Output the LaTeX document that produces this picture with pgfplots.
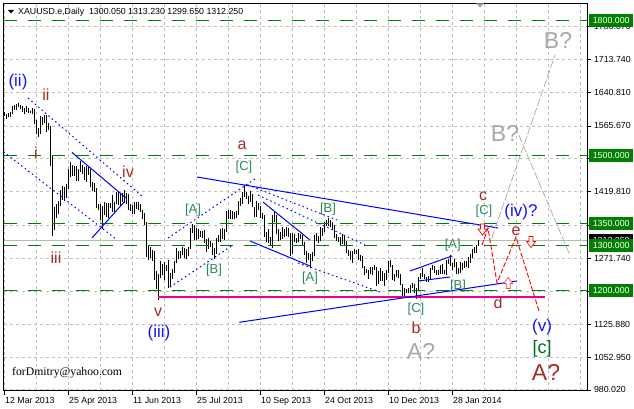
\documentclass[border=0pt]{standalone}
\usepackage{pgfplots}
\pgfplotsset{compat=1.18}
\usepackage{pgfplotstable}
\usepackage{fontspec}
\setmainfont{Liberation Sans}
\newfontfamily\wmfont{Liberation Serif}
\definecolor{mtgreen}{RGB}{0,128,0}
\definecolor{wbrown}{RGB}{165,42,42}
\definecolor{wblue}{RGB}{20,20,255}
\definecolor{wbr}{RGB}{40,140,90}
\definecolor{wgray}{RGB}{168,168,168}
\definecolor{gridc}{RGB}{192,192,192}
\definecolor{wdark}{RGB}{0,110,30}
\definecolor{pinkred}{RGB}{255,60,100}
\newcommand{\fs}[1]{\fontsize{#1bp}{#1bp}\selectfont}

\pgfplotstableread{
i l h
0 1587 1596
1 1582 1593
2 1585 1595
3 1586 1597
4 1592 1609
5 1600 1612
6 1602 1614
7 1607 1616
8 1603 1612
9 1596 1609
10 1592 1606
11 1596 1609
12 1594 1606
13 1594 1598
14 1592 1605
15 1570 1604
16 1548 1578
17 1540 1562
18 1548 1587
19 1567 1585
20 1572 1589
21 1553 1590
22 1557 1572
23 1477 1566
24 1321 1501
25 1334 1385
26 1362 1392
27 1370 1398
28 1387 1424
29 1402 1433
30 1400 1431
31 1405 1437
32 1425 1469
33 1452 1485
34 1454 1478
35 1455 1477
36 1443 1477
37 1444 1471
38 1464 1487
39 1460 1478
40 1446 1475
41 1442 1477
42 1457 1475
43 1429 1469
44 1421 1442
45 1420 1438
46 1384 1428
47 1380 1393
48 1357 1392
49 1338 1387
50 1369 1396
51 1363 1395
52 1362 1395
53 1383 1394
54 1375 1412
55 1375 1397
56 1392 1418
57 1390 1418
58 1387 1416
59 1397 1417
60 1395 1424
61 1392 1417
62 1378 1415
63 1377 1392
64 1371 1391
65 1371 1396
66 1381 1396
67 1378 1396
68 1374 1392
69 1358 1378
70 1346 1373
71 1275 1353
72 1269 1302
73 1272 1297
74 1267 1291
75 1224 1289
76 1203 1243
77 1180 1236
78 1229 1267
79 1234 1260
80 1223 1263
81 1243 1257
82 1207 1268
83 1211 1239
84 1226 1248
85 1240 1265
86 1262 1294
87 1271 1288
88 1272 1288
89 1280 1297
90 1273 1294
91 1271 1292
92 1276 1298
93 1293 1340
94 1328 1348
95 1313 1346
96 1312 1339
97 1314 1338
98 1320 1332
99 1318 1332
100 1306 1335
101 1286 1315
102 1292 1317
103 1298 1311
104 1280 1306
105 1271 1294
106 1282 1316
107 1309 1323
108 1309 1336
109 1315 1339
110 1313 1338
111 1330 1376
112 1360 1378
113 1360 1378
114 1358 1376
115 1360 1375
116 1361 1377
117 1368 1399
118 1387 1406
119 1392 1420
120 1408 1434
121 1403 1418
122 1392 1410
123 1397 1421
124 1385 1415
125 1363 1386
126 1364 1399
127 1380 1394
128 1362 1388
129 1360 1372
130 1320 1368
131 1308 1330
132 1306 1336
133 1300 1319
134 1294 1368
135 1353 1375
136 1325 1368
137 1310 1338
138 1312 1330
139 1315 1342
140 1319 1338
141 1321 1342
142 1319 1340
143 1277 1329
144 1282 1327
145 1308 1326
146 1305 1317
147 1307 1327
148 1315 1326
149 1301 1323
150 1280 1309
151 1262 1288
152 1268 1284
153 1251 1282
154 1265 1286
155 1276 1324
156 1310 1327
157 1306 1322
158 1310 1342
159 1322 1340
160 1330 1352
161 1344 1356
162 1344 1361
163 1341 1356
164 1335 1352
165 1317 1345
166 1310 1326
167 1307 1320
168 1301 1320
169 1304 1325
170 1302 1323
171 1283 1310
172 1276 1290
173 1268 1289
174 1261 1289
175 1281 1293
176 1281 1290
177 1268 1293
178 1265 1280
179 1251 1277
180 1234 1255
181 1239 1249
182 1227 1246
183 1238 1252
184 1235 1253
185 1245 1256
186 1211 1253
187 1215 1244
188 1221 1250
189 1222 1244
190 1211 1240
191 1224 1245
192 1240 1267
193 1252 1268
194 1223 1258
195 1222 1238
196 1230 1245
197 1228 1245
198 1212 1238
199 1188 1214
200 1185 1207
201 1194 1204
202 1195 1206
203 1196 1213
204 1207 1217
205 1195 1214
206 1182 1206
207 1202 1230
208 1225 1240
209 1230 1250
210 1225 1238
211 1219 1231
212 1220 1233
213 1226 1250
214 1246 1256
215 1239 1255
216 1234 1247
217 1235 1245
218 1238 1257
219 1237 1259
220 1236 1245
221 1235 1268
222 1260 1271
223 1254 1279
224 1246 1262
225 1252 1270
226 1238 1264
227 1238 1251
228 1239 1264
229 1247 1261
230 1250 1265
231 1252 1266
232 1251 1275
233 1261 1282
234 1272 1293
235 1283 1296
236 1284 1302
237 1299.65 1313.23
}\bars

\begin{document}
\begin{tikzpicture}
\path[use as bounding box] (0,0) rectangle (634bp,-409bp);
\begin{axis}[
  at={(3.5bp,-390.7bp)}, anchor=south west,
  scale only axis, width=583.8bp, height=387.4bp,
  xmin=-0.5, xmax=291.4, ymin=978.1, ymax=1837.7,
  clip=false,
  axis line style={black, line width=0.8bp},
  tick align=outside, major tick length=4bp, minor tick length=0pt,
  tick style={black, line width=0.6bp},
  xtick pos=bottom, ytick pos=right, yticklabel pos=right,
  xtick={0,32,...,224},
  xticklabels={12 Mar 2013,25 Apr 2013,11 Jun 2013,25 Jul 2013,10 Sep 2013,24 Oct 2013,10 Dec 2013,28 Jan 2014},
  minor xtick={0,16,...,288},
  xmajorgrids=false, xminorgrids=true,
  ytick={980.02,1052.95,1125.88,1271.74,1419.81,1565.67,1640.81,1713.74,1786.87},
  yticklabels={980.020,1052.950,1125.880,1271.740,1419.810,1565.670,1640.810,1713.740,1786.870},
  extra y ticks={1198.81,1345.775,1492.74},
  extra y tick labels={},
  ymajorgrids=true,
  major grid style={gridc, dash pattern=on 3bp off 3bp, line width=0.7bp},
  minor grid style={gridc, dash pattern=on 3bp off 3bp, line width=0.7bp},
  xticklabel style={font=\fs{8.8}, anchor=north west, inner sep=0pt, xshift=0.5bp, yshift=-2bp},
  yticklabel style={font=\fs{8.8}, anchor=west, inner sep=0pt, xshift=2.5bp},
]
% current price line
\addplot[gray!55, line width=0.8bp] coordinates {(-0.5,1312.25) (291.4,1312.25)};
% price bars (high-low)
\addplot[draw=none, mark=none,
  error bars/.cd, y dir=plus, y explicit, error mark=none,
  error bar style={draw=black, solid, line width=0.9bp}]
  table[x=i, y=l, y error expr=\thisrow{h}-\thisrow{l}] {\bars};
% horizontal levels
\addplot[mtgreen, line width=1bp, dash pattern=on 13bp off 11bp] coordinates {(-0.5,1800) (291.4,1800)};
\addplot[mtgreen, line width=1bp, dash pattern=on 13bp off 11bp] coordinates {(-0.5,1500) (291.4,1500)};
\addplot[mtgreen, line width=1bp, dash pattern=on 13bp off 11bp] coordinates {(-0.5,1350) (291.4,1350)};
\addplot[mtgreen, line width=1bp, dash pattern=on 13bp off 11bp] coordinates {(-0.5,1300) (291.4,1300)};
\addplot[mtgreen, line width=1bp, dash pattern=on 13bp off 11bp] coordinates {(-0.5,1200) (291.4,1200)};
% magenta support
\addplot[magenta, line width=1.1bp] coordinates {(76.75,1186) (270.25,1186)};
% blue solid trend lines
\addplot[blue, line width=1bp] coordinates {(96.25,1452.3) (246.75,1339.1)};
\addplot[blue, line width=1bp] coordinates {(117.4,1129.9) (256.1,1221.5)};
\addplot[blue, line width=1bp] coordinates {(33.75,1506.7) (60.75,1405.7)};
\addplot[blue, line width=1bp] coordinates {(43.75,1316.9) (60.25,1399.0)};
\addplot[blue, line width=1bp] coordinates {(129.25,1396.8) (152.75,1312.5)};
\addplot[blue, line width=1bp] coordinates {(122.75,1310.3) (152.75,1254.8)};
\addplot[blue, line width=1bp] coordinates {(202.75,1243.7) (223.75,1277.0)};
\addplot[blue, line width=1bp] coordinates {(206.75,1221.5) (222.75,1230.4)};
% blue dotted lines
\addplot[blue, line width=1bp, dash pattern=on 1.5bp off 3bp] coordinates {(11.75,1627.6) (69.25,1407.9)};
\addplot[blue, line width=1bp, dash pattern=on 1.5bp off 3bp] coordinates {(-0.5,1508.4) (55.25,1316.3)};
\addplot[blue, line width=1bp, dash pattern=on 1.5bp off 3bp] coordinates {(81.75,1316.9) (125.25,1447.9)};
\addplot[blue, line width=1bp, dash pattern=on 1.5bp off 3bp] coordinates {(82.75,1208.2) (114.25,1301.4)};
\addplot[blue, line width=1bp, dash pattern=on 1.5bp off 3bp] coordinates {(121.75,1434.6) (166.25,1356.9)};
\addplot[blue, line width=1bp, dash pattern=on 1.5bp off 3bp] coordinates {(126.75,1412.3) (180.25,1301.4)};
\addplot[blue, line width=1bp, dash pattern=on 1.5bp off 3bp] coordinates {(146.75,1261.5) (187.75,1197.1)};
% gray projection lines
\addplot[wgray, line width=0.7bp, dash pattern=on 8bp off 2bp] coordinates {(243.6,1316.3) (275.25,1723.0)};
\addplot[wgray, line width=0.7bp, dash pattern=on 8bp off 2bp] coordinates {(255.25,1565.4) (282.25,1283.6)};
% red projection
\addplot[red, line width=0.9bp, dash pattern=on 5bp off 2bp] coordinates {(238.75,1301.4) (241.75,1339.1) (246.25,1217.1) (255.75,1319.2) (267.25,1154.9)};
% arrow anchors
\coordinate (ar1) at (axis cs:239,1334.7);
\coordinate (ar2) at (axis cs:263.25,1306.9);
\coordinate (ar3) at (axis cs:251.9,1218.2);
% top marker and title
\fill[gray!70] (axis cs:235.75,1837.7) -- (axis cs:239.75,1837.7) -- (axis cs:237.75,1828) -- cycle;
\fill[black] (axis cs:1.75,1822.9) -- (axis cs:4.75,1822.9) -- (axis cs:3.25,1815) -- cycle;
\node[anchor=west, inner sep=0pt, font=\fs{8.8}] at (axis cs:6.75,1818.4) {XAUUSD.e,Daily\ \ 1300.050 1313.230 1299.650 1312.250};
\node[anchor=west, inner sep=0pt, font=\wmfont\fs{11.7}] at (axis cs:3.75,1017.4) {forDmitry@yahoo.com};
% wave labels
\node[wblue, font=\fs{17}] at (axis cs:6.75,1663.1) {(ii)};
\node[wbrown, font=\fs{16}] at (axis cs:20.75,1634.2) {ii};
\node[wbrown, font=\fs{16}] at (axis cs:15.75,1505.5) {i};
\node[wbrown, font=\fs{16}] at (axis cs:25.75,1272.5) {iii};
\node[wbrown, font=\fs{16}] at (axis cs:61.75,1463.4) {iv};
\node[wbrown, font=\fs{16}] at (axis cs:76.75,1152.7) {v};
\node[wblue, font=\fs{17}] at (axis cs:77.25,1106.1) {(iii)};
\node[wbrown, font=\fs{16}] at (axis cs:118.75,1523.3) {a};
\node[wbr, font=\fs{13}] at (axis cs:119.75,1474.5) {[C]};
\node[wbr, font=\fs{13}] at (axis cs:94.25,1379.1) {[A]};
\node[wbr, font=\fs{13}] at (axis cs:104.75,1245.9) {[B]};
\node[wbr, font=\fs{13}] at (axis cs:161.75,1381.3) {[B]};
\node[wbr, font=\fs{13}] at (axis cs:152.75,1228.2) {[A]};
\node[wbr, font=\fs{13}] at (axis cs:205.75,1159.4) {[C]};
\node[wbrown, font=\fs{16}] at (axis cs:205.75,1117.3) {b};
\node[wgray, font=\fs{23}] at (axis cs:208.25,1066.2) {A?};
\node[wbr, font=\fs{13}] at (axis cs:224.1,1301.4) {[A]};
\node[wbr, font=\fs{13}] at (axis cs:226.75,1210.4) {[B]};
\node[wbrown, font=\fs{16}] at (axis cs:239.25,1410.1) {c};
\node[wbr, font=\fs{13}] at (axis cs:239.75,1376.8) {[C]};
\node[wblue, font=\fs{17}] at (axis cs:258.25,1374.6) {(iv)?};
\node[wbrown, font=\fs{16}] at (axis cs:255.75,1332.4) {e};
\node[wbrown, font=\fs{16}] at (axis cs:246.75,1172.7) {d};
\node[wblue, font=\fs{17}] at (axis cs:268.75,1119.4) {(v)};
\node[wdark, font=\fs{18}] at (axis cs:268.75,1070.6) {[c]};
\node[wbrown, font=\fs{23}] at (axis cs:270.75,1019.6) {A?};
\node[wgray, font=\fs{23}] at (axis cs:276.75,1756.3) {B?};
\node[wgray, font=\fs{23}] at (axis cs:250.25,1549.9) {B?};
% price box anchors
\coordinate (b1800) at (axis cs:292.25,1800);
\coordinate (b1500) at (axis cs:292.25,1500);
\coordinate (b1350) at (axis cs:292.25,1350);
\coordinate (b1312) at (axis cs:292.25,1312.25);
\coordinate (b1300) at (axis cs:292.25,1300);
\coordinate (b1200) at (axis cs:292.25,1200);
\end{axis}
% hollow arrows
\draw[red, fill=white, line width=0.7bp, shift={(ar1)}] (-2bp,6bp)--(2bp,6bp)--(2bp,1bp)--(4.5bp,1bp)--(0,-5bp)--(-4.5bp,1bp)--(-2bp,1bp)--cycle;
\draw[red, fill=white, line width=0.7bp, shift={(ar2)}] (-2bp,6bp)--(2bp,6bp)--(2bp,1bp)--(4.5bp,1bp)--(0,-5bp)--(-4.5bp,1bp)--(-2bp,1bp)--cycle;
\draw[pinkred, fill=white, line width=0.7bp, shift={(ar3)}] (-2bp,-6bp)--(2bp,-6bp)--(2bp,-1bp)--(4.5bp,-1bp)--(0,5bp)--(-4.5bp,-1bp)--(-2bp,-1bp)--cycle;
\tikzset{pbox/.style={anchor=west, fill=mtgreen, text=white, minimum width=44bp, minimum height=13bp, inner sep=0pt, font=\fs{8.8}}}
\node[pbox] at (b1800) {1800.000};
\node[pbox] at (b1500) {1500.000};
\node[pbox] at (b1350) {1350.000};
\node[pbox, fill=black] at (b1312) {1312.250};
\node[pbox] at (b1300) {1300.000};
\node[pbox] at (b1200) {1200.000};
\end{tikzpicture}
\end{document}
